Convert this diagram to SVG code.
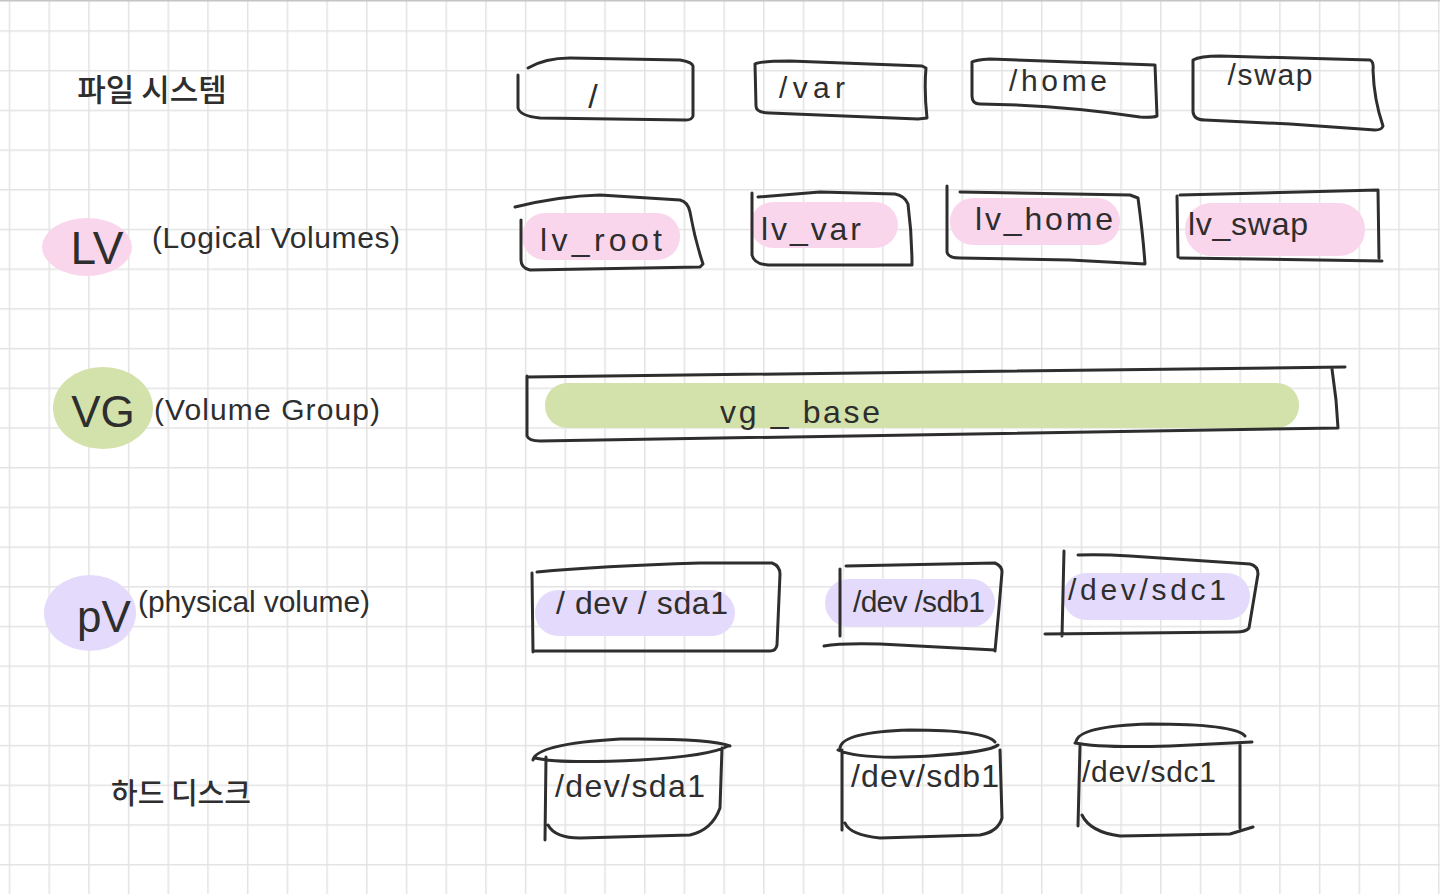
<svg xmlns="http://www.w3.org/2000/svg" width="1440" height="894" viewBox="0 0 1440 894">
  <defs>
    <pattern id="grid" patternUnits="userSpaceOnUse" x="8.75" y="30.25" width="39.7" height="39.7">
      <path d="M0.75 0 V39.7 M0 0.75 H39.7" stroke="#e3e3e3" stroke-width="1.5" fill="none"/>
    </pattern>
    <style>
      .ink{fill:none;stroke:#2e2e2e;stroke-width:3;stroke-linecap:round;stroke-linejoin:round}
      .t{font-family:"Liberation Sans","Noto Sans","Noto Sans CJK KR",sans-serif;fill:#2e2e2e}
      .k{font-family:"Noto Sans CJK KR","Noto Sans",sans-serif;fill:#2e2e2e;font-weight:500}
      .pink{fill:#fad6ec}
      .green{fill:#d3e2aa}
      .purple{fill:#e4dafb}
    </style>
  </defs>
  <rect width="1440" height="894" fill="#ffffff"/>
  <rect width="1440" height="894" fill="url(#grid)"/>
  <line x1="0" y1="0.75" x2="1440" y2="0.75" stroke="#c4c4c4" stroke-width="1.5"/>

  <!-- Row labels -->
  <g id="label-fs">
    <text class="k" x="152" y="101" font-size="31" text-anchor="middle">파일 시스템</text>
  </g>
  <g id="label-lv">
    <ellipse class="pink" cx="87" cy="247" rx="45" ry="29"/>
    <text class="t" x="97" y="264" font-size="46" text-anchor="middle">LV</text>
    <text class="t" x="152" y="248" font-size="30" textLength="248" lengthAdjust="spacing">(Logical Volumes)</text>
  </g>
  <g id="label-vg">
    <ellipse class="green" cx="103" cy="408" rx="50" ry="41"/>
    <text class="t" x="103" y="427" font-size="44" text-anchor="middle">VG</text>
    <text class="t" x="154" y="420" font-size="30" textLength="226" lengthAdjust="spacing">(Volume Group)</text>
  </g>
  <g id="label-pv">
    <ellipse class="purple" cx="90" cy="613" rx="46" ry="38"/>
    <text class="t" x="104" y="632" font-size="44" text-anchor="middle">pV</text>
    <text class="t" x="138" y="612" font-size="30" textLength="232" lengthAdjust="spacing">(physical volume)</text>
  </g>
  <g id="label-disk">
    <text class="k" x="181" y="804" font-size="29" text-anchor="middle">하드 디스크</text>
  </g>

  <!-- File systems -->
  <g id="fs-root">
    <path class="ink" d="M528 68 Q545 58 570 58 L680 60 Q692 62 693 66 L693 116 Q692 120 686 120 L540 118 Q520 116 518 108 L518 75"/>
    <text class="t" x="593" y="108" font-size="34" text-anchor="middle">/</text>
  </g>
  <g id="fs-var">
    <path class="ink" d="M755 64 Q760 61 790 61 L922 66 L926 68 Q924 90 927 118 L918 119 L770 113 Q756 113 756 106 Z"/>
    <text class="t" x="812" y="98" font-size="30" text-anchor="middle" textLength="66" lengthAdjust="spacing">/var</text>
  </g>
  <g id="fs-home">
    <path class="ink" d="M972 62 Q975 60 990 59 L1155 65 Q1156 90 1157 116 Q1152 118 1140 117 Q1060 105 980 104 Q972 104 972 96 Z"/>
    <text class="t" x="1058" y="91" font-size="30" text-anchor="middle" textLength="98" lengthAdjust="spacing">/home</text>
  </g>
  <g id="fs-swap">
    <path class="ink" d="M1193 60 Q1200 56 1220 56 L1370 60 Q1374 62 1373 70 Q1374 100 1383 126 Q1382 130 1375 130 L1290 124 L1205 120 Q1194 120 1193 112 Z"/>
    <text class="t" x="1270" y="85" font-size="30" text-anchor="middle" textLength="85" lengthAdjust="spacing">/swap</text>
  </g>

  <!-- Logical volumes -->
  <g id="lv-root">
    <rect class="pink" x="522" y="213" width="158" height="47" rx="23"/>
    <path class="ink" d="M515 207 Q560 196 600 195 L680 200 Q688 202 690 212 Q695 240 703 264 L700 267 L530 270 Q521 268 521 260 L521 220"/>
    <text class="t" x="601" y="251" font-size="32" text-anchor="middle" textLength="122" lengthAdjust="spacing">lv_root</text>
  </g>
  <g id="lv-var">
    <rect class="pink" x="750" y="202" width="148" height="46" rx="23"/>
    <path class="ink" d="M752 193 L752 255 Q754 264 768 265 L912 265 Q912 235 908 204 Q905 196 895 194 L820 192 L758 197"/>
    <text class="t" x="811" y="240" font-size="32" text-anchor="middle" textLength="100" lengthAdjust="spacing">lv_var</text>
  </g>
  <g id="lv-home">
    <rect class="pink" x="950" y="198" width="170" height="47" rx="23"/>
    <path class="ink" d="M947 186 L947 252 Q948 258 960 258 L1070 260 L1145 264 Q1143 235 1138 198 L1130 195 L960 192"/>
    <text class="t" x="1044" y="230" font-size="32" text-anchor="middle" textLength="138" lengthAdjust="spacing">lv_home</text>
  </g>
  <g id="lv-swap">
    <rect class="pink" x="1185" y="203" width="180" height="53" rx="26"/>
    <path class="ink" d="M1177 196 L1178 257 M1180 195 L1378 190 L1379 258 M1180 258 L1382 261"/>
    <text class="t" x="1248" y="235" font-size="32" text-anchor="middle" textLength="120" lengthAdjust="spacing">lv_swap</text>
  </g>

  <!-- Volume group -->
  <g id="vg-base">
    <rect class="green" x="545" y="383" width="754" height="45" rx="22"/>
    <path class="ink" d="M527 377 L1345 367 M527 376 L527 436 Q529 441 540 441 L1338 428 L1336 400 L1332 369"/>
    <text class="t" x="800" y="423" font-size="32" text-anchor="middle" textLength="160" lengthAdjust="spacing">vg _ base</text>
  </g>

  <!-- Physical volumes -->
  <g id="pv-sda1">
    <rect class="purple" x="535" y="590" width="200" height="46" rx="23"/>
    <path class="ink" d="M532 573 L533 652 M537 572 Q600 566 700 563 L772 563 Q780 566 780 574 L777 645 Q776 651 770 651 L535 651"/>
    <text class="t" x="642" y="614" font-size="32" text-anchor="middle" textLength="172" lengthAdjust="spacing">/ dev / sda1</text>
  </g>
  <g id="pv-sdb1">
    <rect class="purple" x="825" y="579" width="170" height="48" rx="24"/>
    <path class="ink" d="M840 569 L840 636 M846 566 L995 563 Q1002 566 1002 572 Q999 610 995 651 M824 646 Q840 643 880 644 L995 650"/>
    <text class="t" x="919" y="612" font-size="30" text-anchor="middle" textLength="132" lengthAdjust="spacing">/dev /sdb1</text>
  </g>
  <g id="pv-sdc1">
    <rect class="purple" x="1063" y="573" width="187" height="47" rx="23"/>
    <path class="ink" d="M1064 551 L1062 636 M1078 555 Q1100 554 1130 556 L1250 564 Q1258 566 1258 574 L1249 628 Q1246 632 1236 632 L1045 634"/>
    <text class="t" x="1147" y="600" font-size="30" text-anchor="middle" textLength="158" lengthAdjust="spacing">/dev/sdc1</text>
  </g>

  <!-- Hard disks -->
  <g id="disk-sda1">
    <path class="ink" d="M533 760 Q536 744 620 739 Q710 738 730 746 M535 758 Q560 764 640 760 Q710 756 728 746 M546 757 L545 840 M722 748 L720 808 Q712 830 690 835 L580 838 Q555 838 548 825"/>
    <text class="t" x="630" y="797" font-size="32" text-anchor="middle" textLength="150" lengthAdjust="spacing">/dev/sda1</text>
  </g>
  <g id="disk-sdb1">
    <path class="ink" d="M840 748 Q842 732 910 730 Q985 730 995 742 M838 750 Q860 760 930 756 Q990 752 998 745 M842 750 L842 830 M1000 750 L1002 818 Q998 832 980 835 L880 838 Q850 835 845 823"/>
    <text class="t" x="925" y="787" font-size="32" text-anchor="middle" textLength="148" lengthAdjust="spacing">/dev/sdb1</text>
  </g>
  <g id="disk-sdc1">
    <path class="ink" d="M1076 742 Q1078 726 1150 724 Q1235 724 1245 736 M1075 743 Q1100 748 1170 746 L1252 742 M1080 746 L1078 826 M1240 745 L1240 828 M1082 815 Q1090 832 1120 836 L1230 834 L1253 827"/>
    <text class="t" x="1149" y="782" font-size="30" text-anchor="middle" textLength="134" lengthAdjust="spacing">/dev/sdc1</text>
  </g>

  <g id="connectors"></g>
</svg>
